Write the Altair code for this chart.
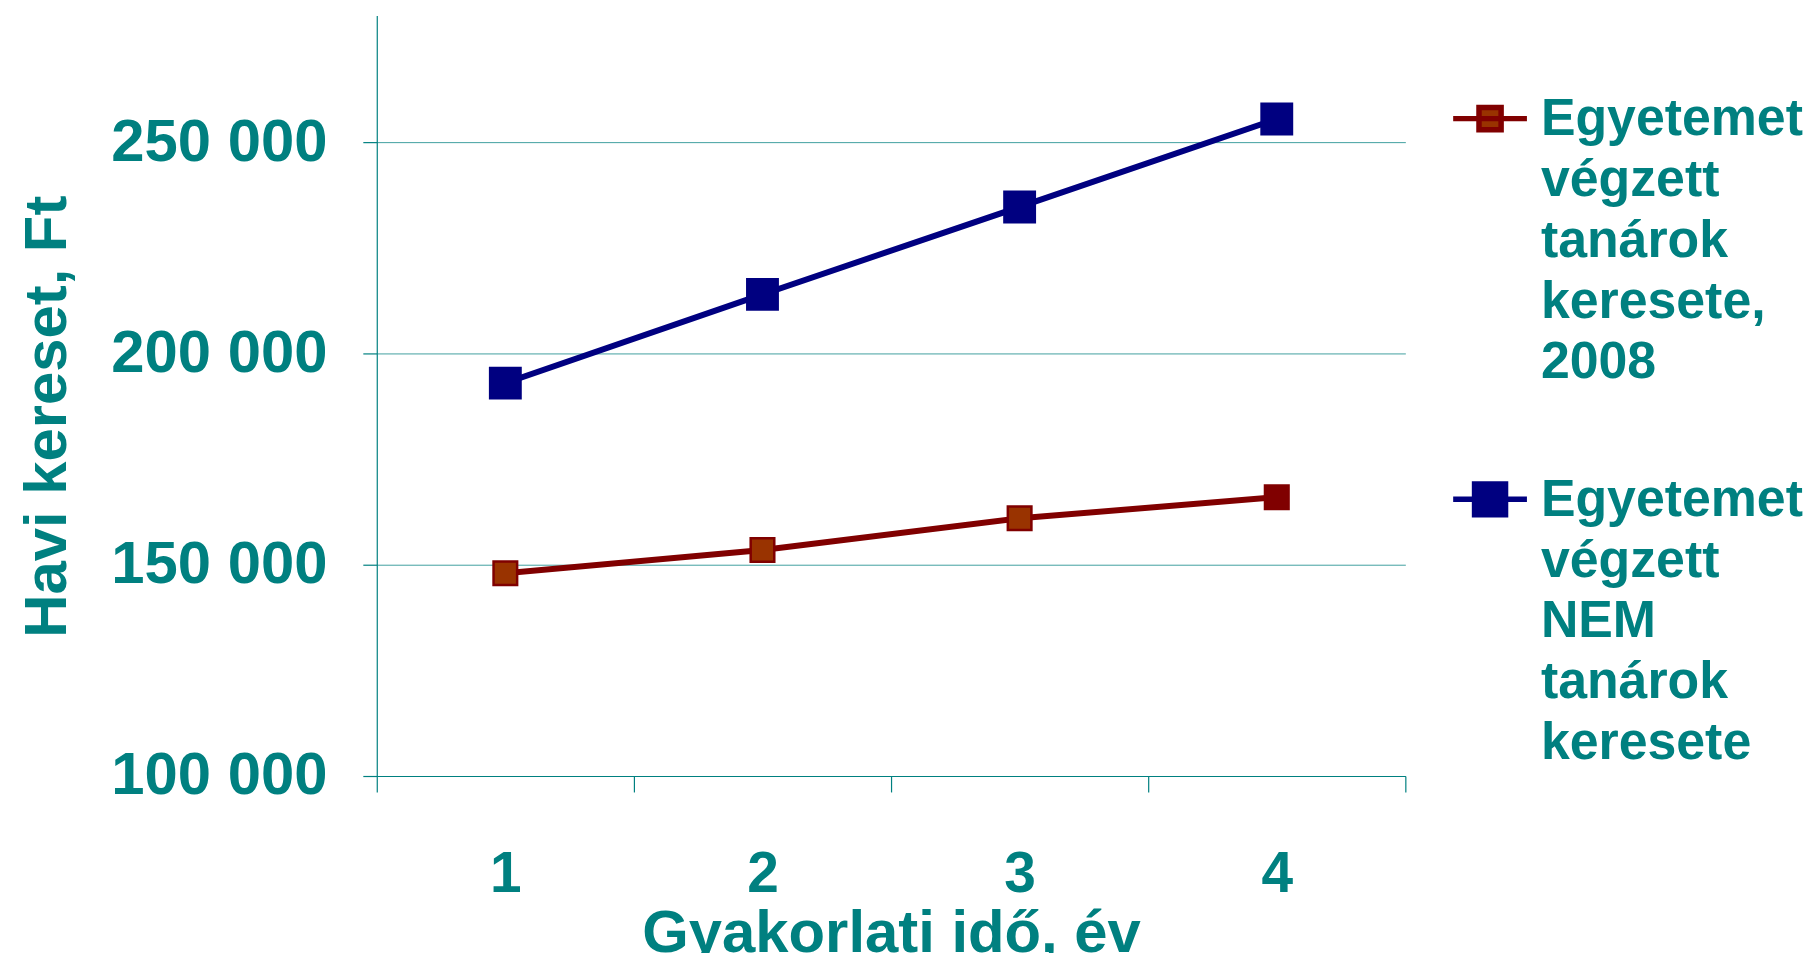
import altair as alt
import pandas as pd

# ---- data ----
years = [1, 2, 3, 4]
teachers = [148000, 153500, 161000, 166000]          # Egyetemet végzett tanárok keresete, 2008
non_teachers = [193000, 214000, 234700, 255500]      # Egyetemet végzett NEM tanárok keresete
series_teachers_lines = ["Egyetemet", "végzett", "tanárok", "keresete,", "2008"]
series_non_lines = ["Egyetemet", "végzett", "NEM", "tanárok", "keresete"]
y_ticks = [100000, 150000, 200000, 250000]
x_title = "Gyakorlati idő, év"
y_title = "Havi kereset, Ft"

s1 = "|".join(series_teachers_lines)
s2 = "|".join(series_non_lines)

rows = [{"ev": str(x), "kereset": v, "sorozat": s1} for x, v in zip(years, teachers)]
rows += [{"ev": str(x), "kereset": v, "sorozat": s2} for x, v in zip(years, non_teachers)]
df = pd.DataFrame(rows)

TEAL = "#008080"
RED = "#800000"
RED_FILL = "#993300"
BLUE = "#000080"
FONT = "Liberation Sans"

x_enc = alt.X(
    "ev:O",
    scale=alt.Scale(type="band", paddingInner=0, paddingOuter=0),
    axis=alt.Axis(
        title=x_title, labelAngle=0, tickBand="extent", grid=False,
        domainColor=TEAL, tickColor=TEAL, tickSize=16, domainWidth=1.2, tickWidth=1.2,
        labelFont=FONT, labelFontWeight="bold", labelFontSize=57, labelColor=TEAL,
        labelPadding=55,
        titleFont=FONT, titleFontWeight="bold", titleFontSize=60, titleColor=TEAL,
        titlePadding=2,
    ),
)
y_enc = alt.Y(
    "kereset:Q",
    scale=alt.Scale(domain=[100000, 280000], nice=False, zero=False),
    axis=alt.Axis(
        title=y_title, values=y_ticks,
        labelExpr="replace(format(datum.value, ','), ',', ' ')",
        labelLimit=0,
        grid=True, gridColor=TEAL, gridWidth=1, gridOpacity=0.75,
        domainColor=TEAL, tickColor=TEAL, tickSize=14, domainWidth=1.2, tickWidth=1.2,
        labelFont=FONT, labelFontWeight="bold", labelFontSize=60, labelColor=TEAL,
        labelPadding=36,
        titleFont=FONT, titleFontWeight="bold", titleFontSize=60, titleColor=TEAL,
        titleAngle=270, titleBaseline="alphabetic", titleAlign="center",
        titleX=-312, titleY=402,
    ),
)

# legend symbols: a line with a square marker, drawn slightly below the symbol centre
# so that it sits level with the first line of the (top-anchored) multi-line label
red_path = "M-1,0.66L1,0.66M-0.3,0.36L0.3,0.36L0.3,0.96L-0.3,0.96Z"
blue_path = "M-1,0.66L1,0.66M-0.42,0.24L0.42,0.24L0.42,1.08L-0.42,1.08Z"

legend = alt.Legend(
    title=None, orient="none", legendX=1077, legendY=39, padding=0,
    labelExpr="split(datum.label, '|')",
    labelFont=FONT, labelFontWeight="bold", labelFontSize=52, labelColor=TEAL,
    labelLimit=0, labelOffset=11, labelBaseline="top",
    rowPadding=47, symbolSize=5476, symbolStrokeWidth=5.5, symbolOpacity=1,
)

stroke_scale = alt.Scale(domain=[s1, s2], range=[RED, BLUE])
fill_scale = alt.Scale(domain=[s1, s2], range=[RED_FILL, BLUE])
shape_scale = alt.Scale(domain=[s1, s2], range=[red_path, blue_path])

base = alt.Chart(df)

lines = base.mark_line(strokeWidth=6).encode(
    x=x_enc, y=y_enc,
    stroke=alt.Stroke("sorozat:N", scale=stroke_scale, legend=legend),
)

legend_layer = base.mark_point(filled=True, opacity=0).encode(
    x=x_enc, y=y_enc,
    stroke=alt.Stroke("sorozat:N", scale=stroke_scale, legend=legend),
    fill=alt.Fill("sorozat:N", scale=fill_scale, legend=legend),
    shape=alt.Shape("sorozat:N", scale=shape_scale, legend=legend),
)

red_pts = base.transform_filter(alt.datum.sorozat == s1).mark_square(
    size=560, opacity=1, stroke=RED, strokeWidth=2.5
).encode(
    x=x_enc, y=y_enc,
    fill=alt.condition(alt.datum.ev == "4", alt.value(RED), alt.value(RED_FILL)),
)

blue_pts = base.transform_filter(alt.datum.sorozat == s2).mark_square(
    size=1089, opacity=1, color=BLUE
).encode(x=x_enc, y=y_enc)

chart = alt.layer(lines, legend_layer, red_pts, blue_pts).properties(
    width=1032, height=763,
    autosize=alt.AutoSizeParams(type="none"),
    padding={"left": 370, "top": 6, "right": 401, "bottom": 176},
).configure(style={"guide-label": {"lineHeight": 61}}).configure_view(stroke=None)

chart.save("out.html", embed_options={"renderer": "svg", "actions": False})
